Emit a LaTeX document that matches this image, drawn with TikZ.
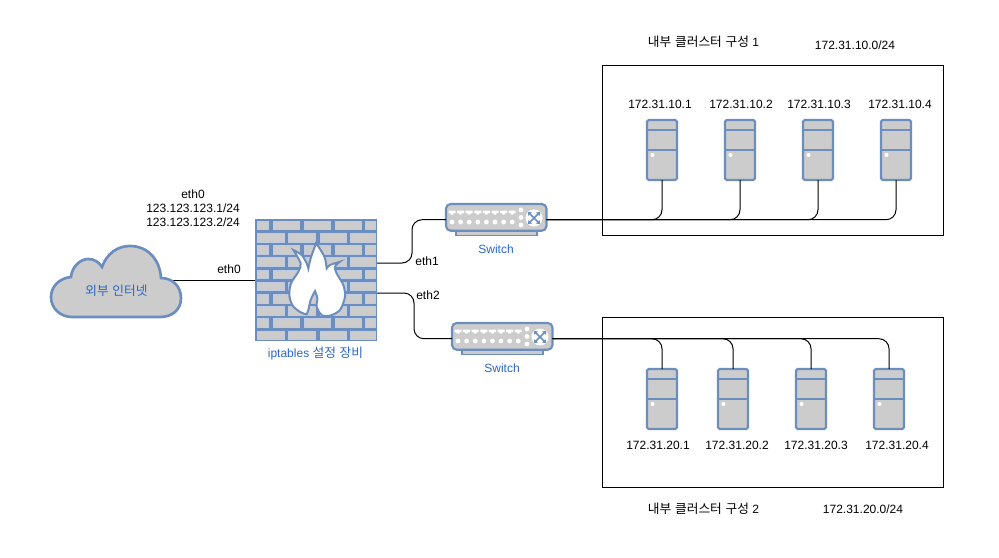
\documentclass[tikz,border=0pt]{standalone}
\usepackage{fontspec}
\setmainfont{Liberation Sans}
\newfontfamily\cjk[Scale=1.06,WordSpace=1.3]{Noto Sans CJK KR}
\definecolor{ib}{HTML}{6C8EBF}
\definecolor{ig}{HTML}{CCCCCC}
\definecolor{lb}{HTML}{2A66C8}
\tikzset{
  x=0.75pt,y=-0.75pt,
  lbl/.style={font=\fontsize{9pt}{10.5pt}\selectfont,inner sep=0pt,align=center,text=black},
  blbl/.style={lbl,text=lb},
  wire/.style={line width=0.75pt,black,rounded corners=7.5pt},
  iconline/.style={draw=ib,line width=1.6pt,fill=ig,rounded corners=1.2pt},
  boxn/.style={draw=black,line width=0.75pt,inner sep=0pt,outer sep=0pt,anchor=north west,minimum width=255.4pt,minimum height=127pt},
  hit/.style={inner sep=0pt,outer sep=0pt,minimum size=0pt,anchor=north west},
}
\newcommand{\serverbox}[3]{% name, x, y
  \node[hit,iconline,minimum width=22.5pt,minimum height=45pt] (#1) at (#2,#3) {};
  \draw[ib,line width=1.5pt] (#2,#3+9.5) -- ++(30,0) (#2,#3+30) -- ++(30,0);
  \fill[white] (#2+5.5,#3+35) circle (2);
}
\newcommand{\switchbox}[3]{% name, x, y
  \draw[draw=ib,line width=1.2pt,fill=ig] (#2+10,#3+26) rectangle (#2+91,#3+31.5);
  \filldraw[draw=ib,line width=1.6pt,fill=ig,rounded corners=3.5pt] (#2,#3) rectangle (#2+100.5,#3+26.7);
  \node[hit,minimum width=75.4pt,minimum height=23.6pt] (#1) at (#2,#3) {};
  \foreach \i in {0,...,7} {
    \fill[white] (#2+2.5+8.6*\i,#3+6.5) -- ++(7,0) -- ++(0,2.5) -- ++(-1.5,0) -- ++(-1.2,1.6) -- ++(-1.6,0) -- ++(-1.2,-1.6) -- ++(-1.5,0) -- cycle;
    \fill[white] (#2+6+8.6*\i,#3+18) circle (2.4);
  }
  \foreach \j in {6,13.5,21} \fill[white] (#2+75,#3+\j) circle (2.4);
  \fill[white] (#2+88,#3+14) circle (8.5);
  \draw[ib,line width=1.1pt] (#2+84,#3+10) -- (#2+92,#3+18) (#2+92,#3+10) -- (#2+84,#3+18);
  \fill[ib] (#2+82,#3+8) -- ++(4,0.4) -- ++(-3.6,3.6) -- cycle
            (#2+94,#3+8) -- ++(-4,0.4) -- ++(3.6,3.6) -- cycle
            (#2+82,#3+20) -- ++(4,-0.4) -- ++(-3.6,-3.6) -- cycle
            (#2+94,#3+20) -- ++(-4,-0.4) -- ++(3.6,-3.6) -- cycle;
}
\begin{document}
\begin{tikzpicture}
\useasboundingbox (0,0) rectangle (999,557);
% boxes
\node[boxn] (clusterA) at (602.5,65.75) {};
\node[boxn] (clusterB) at (602.5,317.75) {};
% anchors
\coordinate (cloudE) at (170,280);
\coordinate (fwW) at (255,280);
\coordinate (fwE1) at (376,263);
\coordinate (fwE2) at (376,293);
\coordinate (bendA) at (412,240);
\coordinate (bendB) at (414,316);
% icons
\serverbox{a1}{647}{120}
\serverbox{a2}{725}{120}
\serverbox{a3}{803}{120}
\serverbox{a4}{881}{120}
\serverbox{b1}{647}{369}
\serverbox{b2}{718}{369}
\serverbox{b3}{796}{369}
\serverbox{b4}{874}{369}
\switchbox{sw1}{446}{204}
\switchbox{sw2}{452}{323}
% connectors
\foreach \s in {a1,a2,a3,a4} \draw[wire] (sw1.east) -| (\s.south);
\foreach \s in {b1,b2,b3,b4} \draw[wire] (sw2.east) -| (\s.north);
\draw[wire] (fwE1) -| (bendA) |- (sw1.west);
\draw[wire] (fwE2) -| (bendB) |- (sw2.west);
\draw[wire] (cloudE) -- (fwW);
% cloud
\draw[draw=ib,line width=2pt,fill=ig]
  (71,277) .. controls (72,266) and (81,259) .. (88,259)
  .. controls (94,259) and (99,262) .. (102,267)
  .. controls (107,253) and (118,246) .. (130,246)
  .. controls (148,246) and (160,260) .. (161,278)
  .. controls (172,278) and (181,286) .. (181,298)
  .. controls (181,310) and (172,317) .. (160,317)
  -- (72,317)
  .. controls (60,317) and (51,308) .. (51,297)
  .. controls (51,286) and (60,278) .. (71,277) -- cycle;
\node[blbl] (cloudtxt) at (116.5,291) {{\cjk 외부 인터넷}};
% firewall
\node[hit,fill=ib,minimum width=91.5pt,minimum height=91.5pt] (fw) at (255,219) {};
\foreach \r in {0,2,4,6,8} {
  \foreach \xa/\xb in {2/13,18/44,49/75,80/106,110/120}
    \fill[ig,draw=white!55!ib,line width=.4pt] (255+\xa,221+12.2*\r) rectangle (255+\xb,229.7+12.2*\r);
}
\foreach \r in {1,3,5,7,9} {
  \foreach \xa/\xb in {2/29,33/60,65/91,95/120}
    \fill[ig,draw=white!55!ib,line width=.4pt] (255+\xa,221+12.2*\r) rectangle (255+\xb,229.7+12.2*\r);
}
\begin{scope}[shift={(280,235)},x=0.25pt,y=-0.25pt]
\filldraw[draw=ib,line width=1.5pt,fill=white]
  plot[smooth,tension=.5] coordinates {(80,238) (62,232) (38,212) (28,180) (33,145) (55,110) (62,85) (40,45)}
  -- plot[smooth,tension=.5] coordinates {(40,45) (65,60) (80,85) (85,100)}
  -- plot[smooth,tension=.5] coordinates {(85,100) (92,70) (108,25)}
  -- plot[smooth,tension=.5] coordinates {(108,25) (122,45) (135,70) (140,100)}
  -- plot[smooth,tension=.5] coordinates {(140,100) (150,90) (180,80)}
  -- plot[smooth,tension=.5] coordinates {(180,80) (165,95) (170,115) (190,150) (195,185) (180,225) (150,242) (125,240) (110,215) (112,190) (105,168)}
  -- plot[smooth,tension=.5] coordinates {(105,168) (92,195) (85,225) (80,238)}
  -- cycle;
\end{scope}
% labels
\node[blbl] (fwtxt) at (315.5,353) {iptables {\cjk 설정 장비}};
\node[blbl] (sw1txt) at (496,249) {Switch};
\node[blbl] (sw2txt) at (502,368) {Switch};
\node[lbl] (ext) at (193,208) {eth0\\123.123.123.1/24\\123.123.123.2/24};
\node[lbl] (e0) at (229,269) {eth0};
\node[lbl] (e1) at (427,261) {eth1};
\node[lbl] (e2) at (428,295) {eth2};
\node[lbl] (t1) at (703.5,42) {{\cjk 내부 클러스터 구성} 1};
\node[lbl] (n1) at (855,45.5) {172.31.10.0/24};
\node[lbl] (t2) at (703.5,509) {{\cjk 내부 클러스터 구성} 2};
\node[lbl] (n2) at (863,509.5) {172.31.20.0/24};
\node[lbl] (ia1) at (660,104) {172.31.10.1};
\node[lbl] (ia2) at (741,104) {172.31.10.2};
\node[lbl] (ia3) at (819,104) {172.31.10.3};
\node[lbl] (ia4) at (900,104) {172.31.10.4};
\node[lbl] (ib1) at (658,445) {172.31.20.1};
\node[lbl] (ib2) at (737,445) {172.31.20.2};
\node[lbl] (ib3) at (816,445) {172.31.20.3};
\node[lbl] (ib4) at (897,445) {172.31.20.4};
\end{tikzpicture}
\end{document}
